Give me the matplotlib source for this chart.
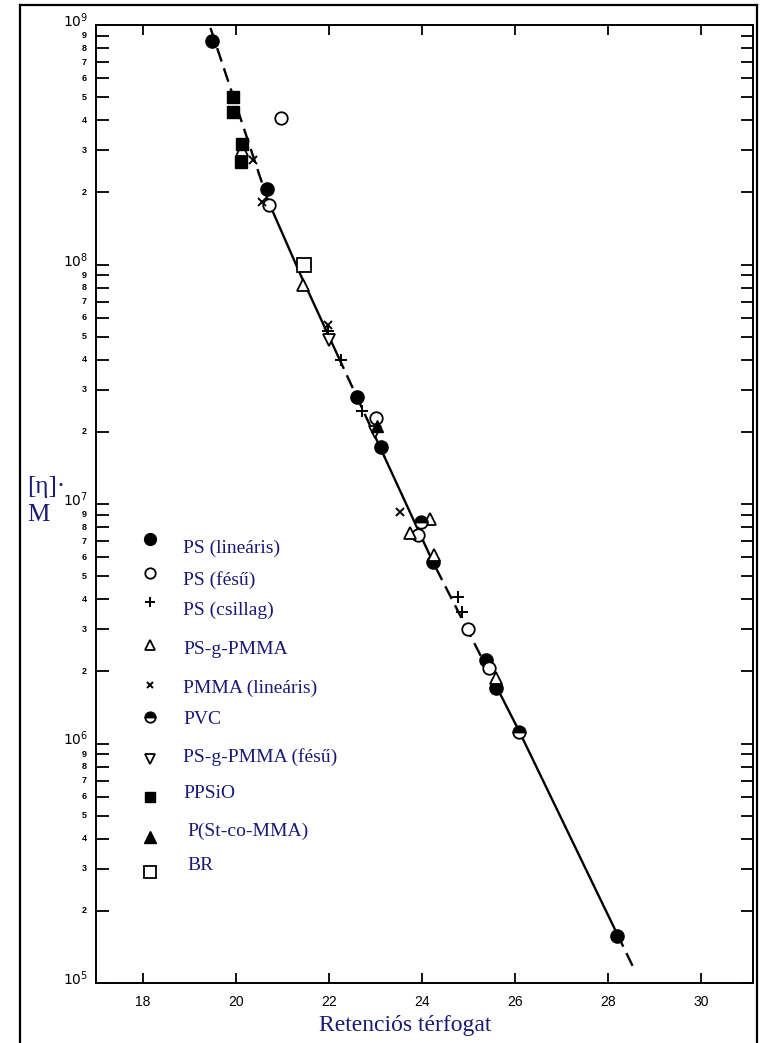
import numpy as np
import matplotlib
matplotlib.use("Agg")
import matplotlib.pyplot as plt
import matplotlib.transforms as mtransforms
from matplotlib.lines import Line2D
from matplotlib.ticker import FixedLocator, NullFormatter

# === data ===
ps_lin_x = [19.50, 20.67, 22.60, 23.12, 24.24, 25.38, 25.59, 28.19]
ps_lin_y = [8.6e8, 2.07e8, 2.8e7, 1.73e7, 5.7e6, 2.24e6, 1.71e6, 1.57e5]

ps_comb_x = [20.97, 20.71, 23.01, 23.91, 25.00, 25.44]
ps_comb_y = [4.1e8, 1.77e8, 2.29e7, 7.4e6, 3.0e6, 2.07e6]

ps_star_x = [21.99, 22.26, 22.71, 24.77, 24.86]
ps_star_y = [5.3e7, 4.0e7, 2.44e7, 4.1e6, 3.54e6]

psg_x = [20.13, 21.44, 24.17, 23.74, 24.26, 25.59]
psg_y = [3.0e8, 8.2e7, 8.67e6, 7.6e6, 6.1e6, 1.88e6]

pmma_x = [20.37, 20.56, 21.98, 23.53]
pmma_y = [2.73e8, 1.82e8, 5.6e7, 9.3e6]

pvc_x = [23.98, 26.09]
pvc_y = [8.4e6, 1.12e6]

psg_comb_x = [22.00, 23.00]
psg_comb_y = [4.84e7, 2.0e7]

ppsio_x = [19.94, 19.94, 20.13, 20.11]
ppsio_y = [5.0e8, 4.34e8, 3.18e8, 2.68e8]

pstco_x = [23.03]
pstco_y = [2.12e7]

br_x = [21.48]
br_y = [1.0e8]

# calibration curve vertices
curve_x = [19.46, 20.69, 21.38, 24.24, 26.09, 28.54]
curve_y = [9.72e8, 1.86e8, 9.2e7, 5.73e6, 1.13e6, 1.17e5]
# pieces of the curve: (from x, to x, dashed?)
curve_pieces = [(19.46, 20.69, True), (20.69, 22.20, False), (22.20, 23.20, True),
                (23.20, 24.30, False), (24.30, 25.60, True), (25.60, 28.20, False),
                (28.20, 28.54, True)]

legend_labels = ["PS (lineáris)", "PS (fésű)", "PS (csillag)", "PS-g-PMMA",
                 "PMMA (lineáris)", "PVC", "PS-g-PMMA (fésű)", "PPSiO",
                 "P(St-co-MMA)", "BR"]

x_ticks = [18, 20, 22, 24, 26, 28, 30]

NAVY = "#1a1a75"
W, H = 760, 1043

fig = plt.figure(figsize=(W / 100, H / 100), dpi=100)
ax = fig.add_axes([96 / W, 60 / H, 657 / W, 958 / H])
ax.set_yscale("log")
ax.set_xlim(17.0, 31.12)
ax.set_ylim(1e5, 1e9)

# === curve ===
lcx = np.array(curve_x)
lcy = np.log10(curve_y)
for x0, x1, dashed in curve_pieces:
    inner = [x for x in curve_x if x0 < x < x1]
    xs = np.array([x0] + inner + [x1])
    ys = 10 ** np.interp(xs, lcx, lcy)
    if dashed:
        ax.plot(xs, ys, color="black", lw=1.7, dashes=(6, 3), zorder=2)
    else:
        ax.plot(xs, ys, color="black", lw=1.7, zorder=2)

# === markers ===
series = [
    (ps_lin_x, ps_lin_y, dict(marker="o", ms=9.5, mfc="black", mec="black")),
    (ps_comb_x, ps_comb_y, dict(marker="o", ms=9, mfc="white", mec="black", mew=1.3)),
    (ps_star_x, ps_star_y, dict(marker="+", ms=8, mec="black", mew=1.4)),
    (psg_x, psg_y, dict(marker="^", ms=9, mfc="white", mec="black", mew=1.3)),
    (pmma_x, pmma_y, dict(marker="x", ms=5.5, mec="black", mew=1.4)),
    (pvc_x, pvc_y, dict(marker="o", ms=9, mfc="black", mec="black", mew=1.3,
                        fillstyle="top", markerfacecoloralt="white")),
    (psg_comb_x, psg_comb_y, dict(marker="v", ms=9, mfc="white", mec="black", mew=1.3)),
    (ppsio_x, ppsio_y, dict(marker="s", ms=9, mfc="black", mec="black")),
    (pstco_x, pstco_y, dict(marker="^", ms=9, mfc="black", mec="black")),
    (br_x, br_y, dict(marker="s", ms=9.5, mfc="white", mec="black", mew=1.3)),
]
for xs, ys, kw in series:
    ax.plot(xs, ys, ls="none", zorder=3, **kw)

# === legend drawn by hand ===
leg_marker_y = [539, 573, 602, 645, 685, 717, 759, 797, 837, 872]
leg_text_y = [548, 580, 610, 650, 688, 720, 757, 793, 831, 866]
leg_text_x = [183, 183, 183, 183, 183, 183, 183, 183, 187, 187]
leg_sizes = [8.5, 7.5, 6.5, 7.5, 4.5, 7.5, 7.5, 7.5, 8, 8]
for (xs, ys, kw), my, ty, tx, s, lab in zip(series, leg_marker_y, leg_text_y,
                                          leg_text_x, leg_sizes, legend_labels):
    kw = dict(kw)
    kw["ms"] = s
    ax.plot([(150 - 96) / 657], [(983 - my) / 958], ls="none",
            transform=ax.transAxes, clip_on=False, **kw)
    ax.text((tx - 96) / 657, (983 - ty) / 958, lab, transform=ax.transAxes,
            family="Liberation Serif", fontsize=14, color=NAVY,
            ha="left", va="center")

# === axes styling ===
for sp in ax.spines.values():
    sp.set_linewidth(1.4)
ax.set_xticks(x_ticks)
ax.set_xticklabels([str(t) for t in x_ticks], family="Liberation Sans", fontsize=10)
ax.tick_params(axis="x", which="both", direction="in", top=True, length=7,
               width=1.3, pad=9)

# y ticks: majors and minors, labels placed by hand
ax.yaxis.set_major_locator(FixedLocator([1e5, 1e6, 1e7, 1e8, 1e9]))
minor = [m * 10 ** e for e in range(5, 9) for m in range(2, 10)]
ax.yaxis.set_minor_locator(FixedLocator(minor))
ax.yaxis.set_major_formatter(NullFormatter())
ax.yaxis.set_minor_formatter(NullFormatter())
ax.tick_params(axis="y", which="both", direction="in", right=True, length=9,
               width=1.3)
ytr = ax.get_yaxis_transform()
major_tr = mtransforms.offset_copy(ytr, fig=fig, x=-8, y=-2, units="dots")
for e in range(5, 10):
    ax.text(0, 10 ** e, r"$\mathsf{10^{%d}}$" % e, transform=major_tr,
            ha="right", va="baseline", fontsize=10)
minor_tr = mtransforms.offset_copy(ytr, fig=fig, x=-9, y=0, units="dots")
for e in range(5, 9):
    for m in range(2, 10):
        ax.text(0, m * 10 ** e, str(m), transform=minor_tr,
                ha="right", va="center", fontsize=6.5, fontweight="bold",
                family="Liberation Sans")

# axis titles
fig.text(27 / W, 1 - 487 / H, "[η]·", family="Liberation Serif", fontsize=18,
         color=NAVY, ha="left", va="center")
fig.text(27 / W, 1 - 515 / H, "M", family="Liberation Serif", fontsize=18,
         color=NAVY, ha="left", va="center")
fig.text(405 / W, 1 - 1025 / H, "Retenciós térfogat", family="Liberation Serif",
         fontsize=17, color=NAVY, ha="center", va="center")

# outer frame
fx0, fx1, fy0 = 20 / W, 757 / W, 1 - 5 / H
for xd, yd in [([fx0, fx0], [0, fy0]), ([fx0, fx1], [fy0, fy0]), ([fx1, fx1], [fy0, 0])]:
    fig.add_artist(Line2D(xd, yd, color="black", lw=1.6, transform=fig.transFigure))

fig.savefig("out.png", dpi=100)
